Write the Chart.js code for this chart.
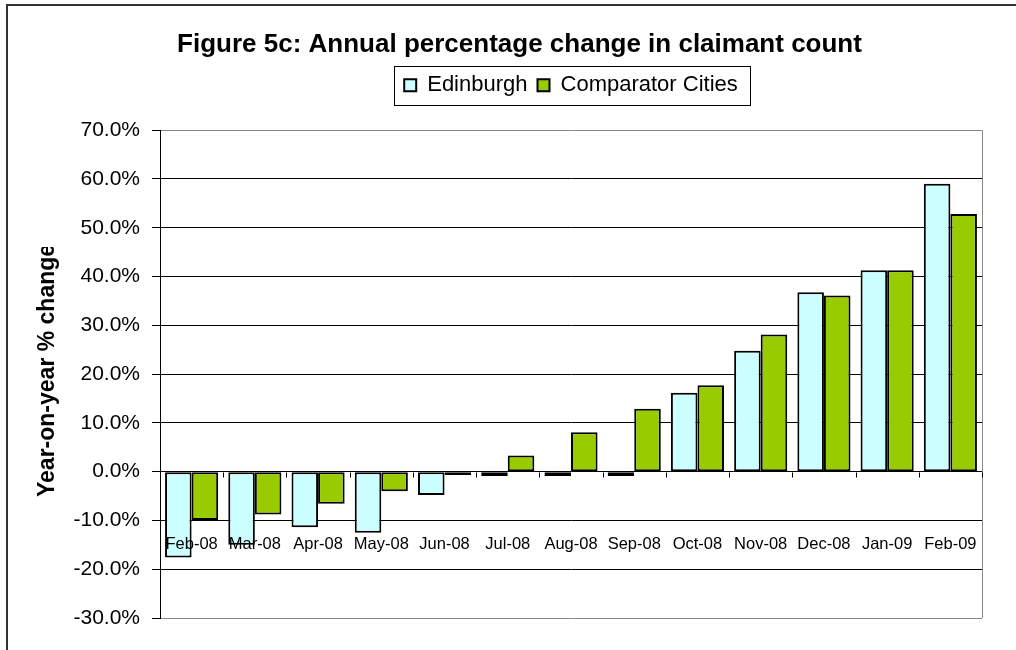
<!DOCTYPE html>
<html>
<head>
<meta charset="utf-8">
<script src="https://cdn.jsdelivr.net/npm/chart.js@4/dist/chart.umd.min.js"></script>
<style>
  html, body { margin: 0; padding: 0; background: #fff; }
</style>
</head>
<body>
<canvas id="myChart" width="1016" height="650"></canvas>
<script>
// chart values (percent)
const months = ['Feb-08', 'Mar-08', 'Apr-08', 'May-08', 'Jun-08', 'Jul-08', 'Aug-08',
  'Sep-08', 'Oct-08', 'Nov-08', 'Dec-08', 'Jan-09', 'Feb-09'];
const edinburgh = [-17.6, -15.0, -11.4, -12.5, -4.8, -0.9, -0.9, -0.9, 16.2, 24.8, 36.8, 41.3, 59.0];
const comparator = [-9.9, -8.8, -6.6, -4.0, -0.7, 3.3, 8.1, 12.9, 17.7, 28.1, 36.1, 41.3, 52.8];
const yMin = -30;
const yMax = 70;
const yStep = 10;
const monthLabelLevel = -15; // month labels sit at this value, like the original

const FONT = '"Liberation Sans", Arial, sans-serif';

const decorations = {
  id: 'decorations',
  beforeDraw(chart) {
    const ctx = chart.ctx;
    ctx.save();
    ctx.strokeStyle = '#333';
    ctx.lineWidth = 2;
    ctx.strokeRect(7, 5, 1100, 800);
    ctx.restore();
  },
  beforeDatasetsDraw(chart) {
    const { ctx, chartArea: a } = chart;
    ctx.save();
    ctx.strokeStyle = '#888';
    ctx.lineWidth = 1;
    ctx.beginPath();
    ctx.moveTo(a.right + 0.5, a.top);
    ctx.lineTo(a.right + 0.5, a.bottom);
    ctx.stroke();
    ctx.restore();
  },
  afterDatasetsDraw(chart) {
    const { ctx, scales: { x, y } } = chart;
    const zero = Math.round(y.getPixelForValue(0)) + 0.5;
    ctx.save();
    // small tick marks on the zero line between categories
    ctx.strokeStyle = '#000';
    ctx.lineWidth = 1;
    ctx.beginPath();
    for (let i = 0; i <= months.length; i++) {
      const px = Math.round(x.getPixelForValue(i - 0.5)) + 0.5;
      ctx.moveTo(px, zero);
      ctx.lineTo(px, zero + 5);
    }
    ctx.stroke();
    // month labels
    ctx.fillStyle = '#000';
    ctx.font = '16.5px ' + FONT;
    ctx.textAlign = 'center';
    ctx.textBaseline = 'middle';
    const ly = y.getPixelForValue(monthLabelLevel);
    months.forEach((m, i) => ctx.fillText(m, x.getPixelForValue(i), ly));
    ctx.restore();
  },
  afterDraw(chart) {
    const ctx = chart.ctx;
    // box round the legend
    const hb = chart.legend.legendHitBoxes;
    if (hb && hb.length) {
      const first = hb[0], last = hb[hb.length - 1];
      const left = first.left - 10;
      const right = last.left + last.width + 12;
      const top = first.top - 8;
      const bottom = first.top + first.height + 9;
      ctx.save();
      ctx.strokeStyle = '#000';
      ctx.lineWidth = 1;
      ctx.strokeRect(Math.round(left) + 0.5, Math.round(top) + 0.5, Math.round(right - left), Math.round(bottom - top));
      ctx.restore();
    }
    // y axis title, clipped at its top like in the original
    ctx.save();
    ctx.beginPath();
    ctx.rect(0, 247, 140, 400);
    ctx.clip();
    ctx.translate(48, 497);
    ctx.rotate(-Math.PI / 2);
    ctx.font = 'bold 23px ' + FONT;
    ctx.fillStyle = '#000';
    ctx.textAlign = 'left';
    ctx.textBaseline = 'middle';
    ctx.fillText('Year-on-year % change', 0, 0);
    ctx.restore();
  }
};

const ctx = document.getElementById('myChart').getContext('2d');
const myChart = new Chart(ctx, {
  type: 'bar',
  data: {
    labels: months,
    datasets: [{
      label: 'Edinburgh',
      data: edinburgh,
      backgroundColor: '#CCFFFF',
      borderColor: '#000',
      borderWidth: 2,
      borderSkipped: false
    }, {
      label: 'Comparator Cities',
      data: comparator,
      backgroundColor: '#99CC00',
      borderColor: '#000',
      borderWidth: 2,
      borderSkipped: false
    }]
  },
  options: {
    responsive: false,
    animation: false,
    layout: { padding: { left: 57, right: 34, top: 0, bottom: 0 } },
    datasets: { bar: { barPercentage: 1, categoryPercentage: 0.84 } },
    plugins: {
      title: {
        display: true,
        text: 'Figure 5c: Annual percentage change in claimant count',
        color: '#000',
        font: { family: FONT, size: 26, weight: 'bold' },
        padding: { top: 29, bottom: 4 }
      },
      legend: {
        display: true,
        fullSize: false,
        labels: {
          color: '#000',
          font: { family: FONT, size: 22 },
          boxWidth: 12,
          boxHeight: 12,
          padding: 10
        }
      },
      // empty spacer between the legend and the plot
      subtitle: {
        display: true,
        text: '',
        weight: 500,
        font: { size: 2, lineHeight: 1 },
        padding: { top: 0, bottom: 22 }
      },
      tooltip: { enabled: false }
    },
    scales: {
      x: {
        ticks: { display: false },
        grid: { display: false },
        border: { display: false },
        afterFit(scale) { scale.height = 32; }
      },
      y: {
        min: yMin,
        max: yMax,
        ticks: {
          stepSize: yStep,
          color: '#000',
          padding: 12,
          font: { family: FONT, size: 21 },
          callback: v => v.toFixed(1) + '%'
        },
        grid: {
          color: c => (c.tick && (c.tick.value === yMax || c.tick.value === yMin)) ? '#888' : '#000',
          lineWidth: 1,
          tickLength: 8,
          tickColor: '#000'
        },
        border: { display: true, color: '#000', width: 1 },
        afterFit(scale) { scale.width = 103; }
      }
    }
  },
  plugins: [decorations]
});
</script>
</body>
</html>
